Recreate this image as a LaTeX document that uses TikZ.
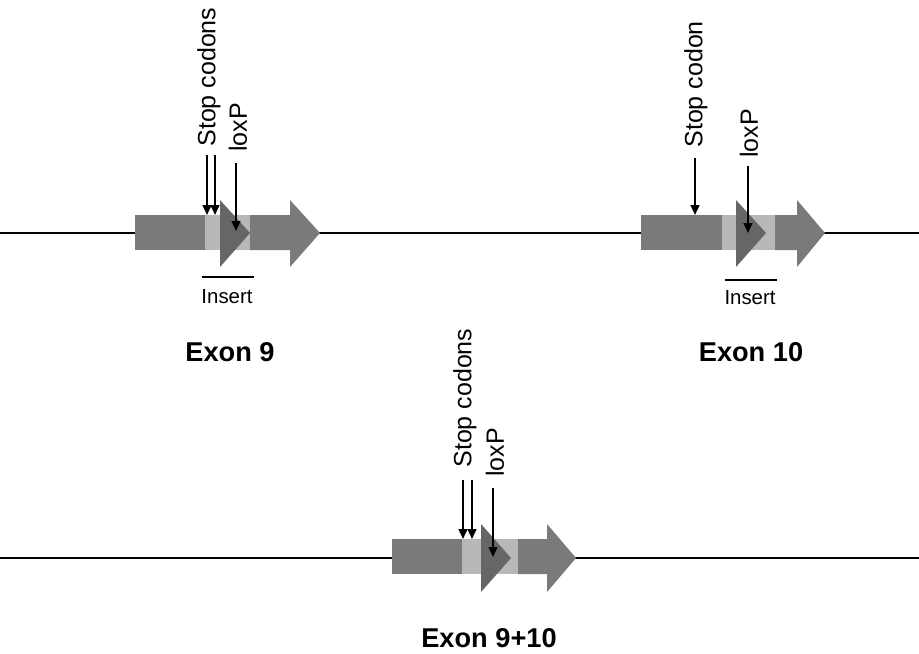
\documentclass[tikz,border=0pt]{standalone}
\usepackage{fontspec}
\setmainfont{Liberation Sans}
\usetikzlibrary{arrows.meta}
\definecolor{exongray}{gray}{0.48}
\definecolor{insgray}{gray}{0.72}
\definecolor{loxgray}{gray}{0.40}
\begin{document}
\begin{tikzpicture}[x=0.5pt, y=-0.5pt,
        exon/.style={fill=exongray, draw=none},
        insbox/.style={fill=insgray, draw=none},
        loxtri/.style={fill=loxgray, draw=none},
        dnaline/.style={line width=0.8pt},
        pointer/.style={line width=1pt, -{Triangle[length=5pt,width=4.4pt]}},
        vlabel/.style={rotate=90, anchor=west, inner sep=0pt, font=\fontsize{12.5}{14}\selectfont},
        inslabel/.style={inner sep=0pt, font=\fontsize{10.2}{12}\selectfont},
        exlabel/.style={inner sep=0pt, font=\fontsize{13.6}{16}\selectfont\bfseries}]
        \useasboundingbox (0,0) rectangle (919,653);

        % DNA lines
        \draw[dnaline] (0,233) -- (919,233);
        \draw[dnaline] (0,558) -- (919,558);

        % Exon 9
        \fill[exon] (135,215) rectangle (205,250);
        \fill[insbox] (205,215) rectangle (250,250);
        \fill[exon] (250,215) -- (290,215) -- (290,200) -- (320,233) -- (290,267) -- (290,250) -- (250,250) -- cycle;
        \fill[loxtri] (220,200) -- (250,233) -- (220,267) -- cycle;
        \node[vlabel] (stopnine) at (209,147) {Stop codons};
        \node[vlabel] (loxnine) at (238,152) {loxP};
        \coordinate (s9a) at (207,155);
        \coordinate (s9b) at (215,155);
        \coordinate (l9) at (236,163);
        \draw[pointer] (s9a) -- (207,215);
        \draw[pointer] (s9b) -- (215,215);
        \draw[pointer] (l9) -- (236,231);
        \coordinate (ins9l) at (202,277);
        \coordinate (ins9r) at (254,277);
        \draw[line width=1pt] (ins9l) -- (ins9r);
        \node[inslabel] (insnine) at (227,297) {Insert};
        \node[exlabel] (exnine) at (230,352) {Exon 9};

        % Exon 10
        \fill[exon] (641,215) rectangle (722,250);
        \fill[insbox] (722,215) rectangle (775,250);
        \fill[exon] (775,215) -- (797,215) -- (797,200) -- (825,233) -- (797,267) -- (797,250) -- (775,250) -- cycle;
        \fill[loxtri] (736,200) -- (766,233) -- (736,267) -- cycle;
        \node[vlabel] (stopten) at (696,148) {Stop codon};
        \node[vlabel] (loxten) at (749,158) {loxP};
        \coordinate (s10) at (695,158);
        \coordinate (l10) at (748,166);
        \draw[pointer] (s10) -- (695,215);
        \draw[pointer] (l10) -- (748,233);
        \coordinate (ins10l) at (725,280);
        \coordinate (ins10r) at (777,280);
        \draw[line width=1pt] (ins10l) -- (ins10r);
        \node[inslabel] (insten) at (750,298) {Insert};
        \node[exlabel] (exten) at (751,352) {Exon 10};

        % Exon 9+10
        \fill[exon] (392,539) rectangle (462,574);
        \fill[insbox] (462,539) rectangle (518,574);
        \fill[exon] (518,539) -- (547,539) -- (547,524) -- (576,558) -- (547,592) -- (547,574) -- (518,574) -- cycle;
        \fill[loxtri] (481,524) -- (511,558) -- (481,592) -- cycle;
        \node[vlabel] (stopboth) at (465,468) {Stop codons};
        \node[vlabel] (loxboth) at (495,477) {loxP};
        \coordinate (sba) at (463,480);
        \coordinate (sbb) at (472,480);
        \coordinate (lb) at (493,488);
        \draw[pointer] (sba) -- (463,539);
        \draw[pointer] (sbb) -- (472,539);
        \draw[pointer] (lb) -- (493,557);
        \node[exlabel] (exboth) at (489,638) {Exon 9+10};

\end{tikzpicture}
\end{document}
